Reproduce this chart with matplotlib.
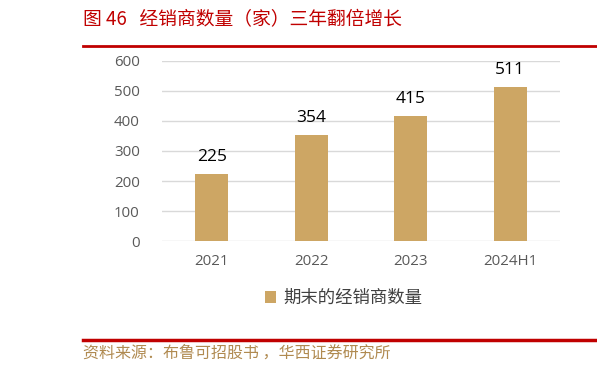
import matplotlib
matplotlib.use("Agg")
import matplotlib.pyplot as plt
from matplotlib.lines import Line2D
from matplotlib.patches import Patch

plt.rcParams['font.family'] = ['Noto Sans CJK SC', 'DejaVu Sans']

categories = ["2021", "2022", "2023", "2024H1"]
values = [225, 354, 415, 511]
yticks = [0, 100, 200, 300, 400, 500, 600]
series_name = "期末的经销商数量"
title = "图 46   经销商数量（家）三年翻倍增长"
source = "资料来源：布鲁可招股书 ，华西证券研究所"

bar_color = "#CDA664"
red = "#C00000"

fig = plt.figure(figsize=(5.97, 3.71), dpi=100)
ax = fig.add_axes([0.2714, 0.3496, 0.6666, 0.4868])

x = range(len(categories))
ax.bar(x, values, width=0.33, color=bar_color, zorder=3)
for xi, v in zip(x, values):
    ax.text(xi, v + 30, str(v), ha='center', va='bottom', fontsize=12.5,
            color='black', family=['Open Sans', 'DejaVu Sans'])

ax.set_xlim(-0.5, len(categories) - 0.5)
ax.set_ylim(0, 600)
ax.set_yticks(yticks)
ax.set_xticks(list(x))
ax.set_xticklabels(categories)
ax.grid(axis='y', color='#D9D9D9', linewidth=1, zorder=0)
for s in ax.spines.values():
    s.set_visible(False)
ax.tick_params(axis='both', length=0, labelsize=10.8, labelcolor='#595959')
ax.tick_params(axis='y', pad=16)
ax.tick_params(axis='x', pad=9)
for lab in ax.get_xticklabels() + ax.get_yticklabels():
    lab.set_family(['Open Sans', 'DejaVu Sans'])

handle = Patch(facecolor=bar_color, edgecolor='none')
fig.legend([handle], [series_name], loc='center', bbox_to_anchor=(0.575, 1 - 298 / 371),
           frameon=False, fontsize=12.5, labelcolor='#404040', handlelength=0.65,
           handleheight=0.65, handletextpad=0.4)

fig.text(83 / 597, 1 - 20 / 371, title, ha='left', va='center', fontsize=13.5, color=red)
fig.add_artist(Line2D([83 / 597, 1.0], [1 - 46 / 371] * 2, color=red, linewidth=2))
fig.add_artist(Line2D([83 / 597, 1.0], [1 - 340 / 371] * 2, color=red, linewidth=2.5))
fig.text(83 / 597, 1 - 353 / 371, source, ha='left', va='center', fontsize=11.5, color='#B08A50')

fig.savefig("out.png", dpi=100)
